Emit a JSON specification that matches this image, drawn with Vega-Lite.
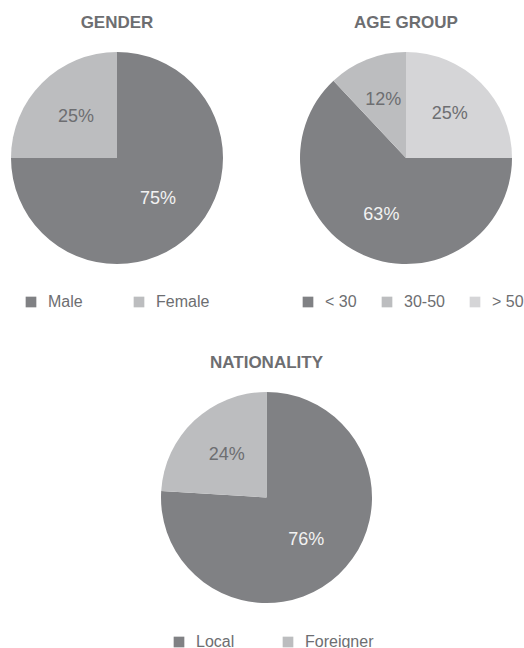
{
  "$schema": "https://vega.github.io/schema/vega-lite/v6.json",
  "padding": {"left": 11, "top": 14, "right": 0, "bottom": 0},
  "background": "white",
  "config": {
    "view": {"stroke": null},
    "font": "Liberation Sans",
    "title": {"fontSize": 17, "fontWeight": "bold", "color": "#6d6e71", "offset": 20, "anchor": "middle"},
    "legend": {
      "orient": "none",
      "direction": "horizontal",
      "symbolType": "square",
      "symbolSize": 114,
      "symbolStrokeWidth": 0,
      "labelFontSize": 16,
      "labelOffset": 9,
      "labelColor": "#6d6e71",
      "padding": 0
    }
  },
  "resolve": {"scale": {"color": "independent"}},
  "spacing": 44,
  "vconcat": [
    {
      "hconcat": [
        {
          "width": 212,
          "height": 212,
          "title": "GENDER",
          "data": {"values": [
            {"category": "Male", "percent": 75, "label": "75%", "ord": 1},
            {"category": "Female", "percent": 25, "label": "25%", "ord": 2}
          ]},
          "encoding": {
            "theta": {"field": "percent", "type": "quantitative", "stack": true},
            "order": {"field": "ord", "type": "quantitative"}
          },
          "layer": [
            {
              "mark": {"type": "arc", "outerRadius": 106},
              "encoding": {
                "color": {
                  "field": "category", "type": "nominal",
                  "scale": {"domain": ["Male", "Female"], "range": ["#808184", "#bcbdbf"]},
                  "legend": {"title": null, "legendX": 12, "legendY": 242, "columnPadding": 48}
                }
              }
            },
            {
              "mark": {"type": "text", "radius": 58, "fontSize": 18},
              "encoding": {
                "text": {"field": "label"},
                "color": {
                  "condition": {"test": "datum.category === 'Male'", "value": "#f2f2f2"},
                  "value": "#6d6e71"
                }
              }
            }
          ]
        },
        {
          "width": 212,
          "height": 212,
          "title": "AGE GROUP",
          "data": {"values": [
            {"category": "> 50", "percent": 25, "label": "25%", "ord": 1},
            {"category": "< 30", "percent": 63, "label": "63%", "ord": 2},
            {"category": "30-50", "percent": 12, "label": "12%", "ord": 3}
          ]},
          "encoding": {
            "theta": {"field": "percent", "type": "quantitative", "stack": true},
            "order": {"field": "ord", "type": "quantitative"}
          },
          "layer": [
            {
              "mark": {"type": "arc", "outerRadius": 106},
              "encoding": {
                "color": {
                  "field": "category", "type": "nominal",
                  "scale": {"domain": ["< 30", "30-50", "> 50"], "range": ["#808184", "#bcbdbf", "#d5d5d7"]},
                  "legend": {"title": null, "legendX": 0, "legendY": 242, "columnPadding": 22}
                }
              }
            },
            {
              "mark": {"type": "text", "radius": 62, "fontSize": 18},
              "encoding": {
                "text": {"field": "label"},
                "color": {
                  "condition": {"test": "datum.category === '< 30'", "value": "#f2f2f2"},
                  "value": "#6d6e71"
                }
              }
            }
          ]
        }
      ],
      "spacing": 77,
      "resolve": {"scale": {"color": "independent"}}
    },
    {
      "width": 511,
      "height": 211,
      "title": "NATIONALITY",
      "data": {"values": [
        {"category": "Local", "percent": 76, "label": "76%", "ord": 1},
        {"category": "Foreigner", "percent": 24, "label": "24%", "ord": 2}
      ]},
      "encoding": {
        "theta": {"field": "percent", "type": "quantitative", "stack": true},
        "order": {"field": "ord", "type": "quantitative"}
      },
      "layer": [
        {
          "mark": {"type": "arc", "outerRadius": 105.5},
          "encoding": {
            "color": {
              "field": "category", "type": "nominal",
              "scale": {"domain": ["Local", "Foreigner"], "range": ["#808184", "#bcbdbf"]},
              "legend": {"title": null, "legendX": 160, "legendY": 242, "columnPadding": 45}
            }
          }
        },
        {
          "mark": {"type": "text", "radius": 58, "fontSize": 18},
          "encoding": {
            "text": {"field": "label"},
            "color": {
              "condition": {"test": "datum.category === 'Local'", "value": "#f2f2f2"},
              "value": "#6d6e71"
            }
          }
        }
      ]
    }
  ]
}
